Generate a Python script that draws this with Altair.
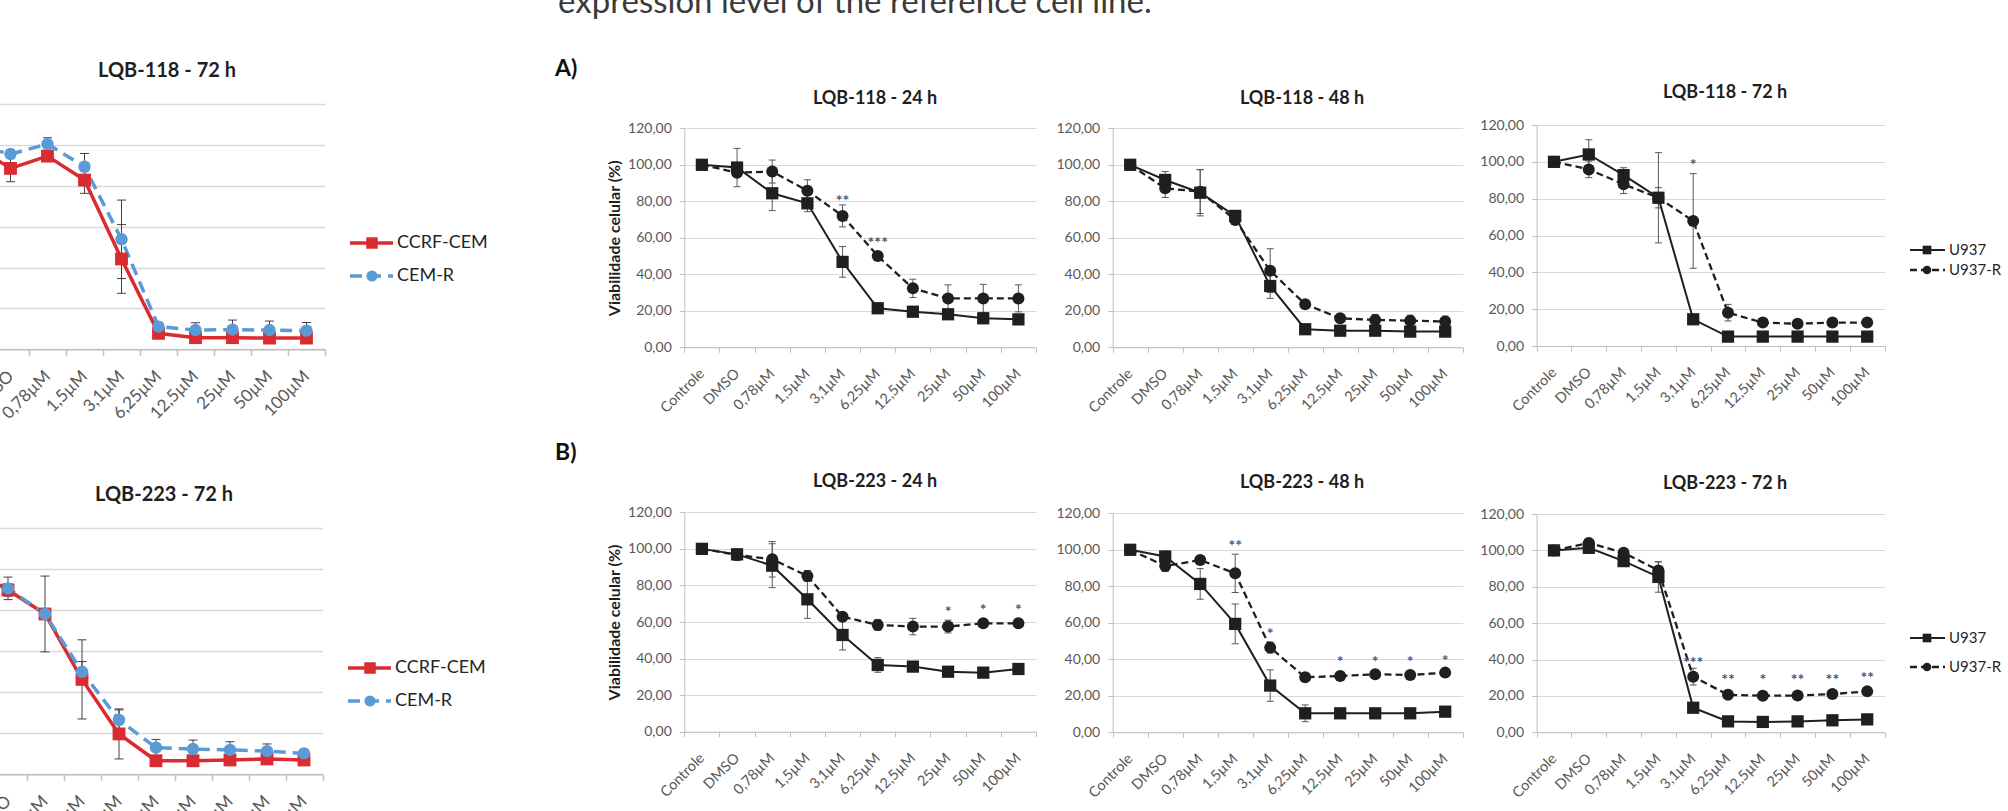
import altair as alt
import pandas as pd

W, H = 2008, 811
FONT = "Lato"
INK = "#1f1f1f"
TXT = "#595959"
GRID = "#d9d9d9"
AXIS = "#bfbfbf"
ERR = "#595959"
RED = "#d92b30"
BLUE = "#5b9bd5"
STAR = "#3f5b80"

CATS = ["Controle", "DMSO", "0,78µM", "1,5µM", "3,1µM", "6,25µM",
        "12,5µM", "25µM", "50µM", "100µM"]
Y_TICKS = [0, 20, 40, 60, 80, 100, 120]

# ---- CCRF-CEM / CEM-R, 72 h ----
l118_72_ccrf = [100, 88.5, 94.5, 82.8, 44.2, 7.8, 5.7, 5.7, 5.5, 5.5]
l118_72_ccrf_err = [0, 6.5, 1.0, 6.5, 16.8, 2.0, 1.0, 1.0, 1.0, 1.0]
l118_72_cemr = [100, 95.5, 100.4, 89.3, 53.8, 11.1, 9.4, 9.6, 9.4, 9.1]
l118_72_cemr_err = [0, 2.0, 3.1, 6.5, 19.2, 1.5, 3.6, 4.7, 4.4, 4.0]

l223_72_ccrf = [100, 89.9, 78.2, 46.3, 19.7, 6.6, 6.6, 7.0, 7.5, 7.0]
l223_72_ccrf_err = [0, 3.0, 18.5, 19.3, 12.2, 1.0, 1.0, 1.0, 1.0, 1.0]
l223_72_cemr = [100, 90.7, 78.2, 50.0, 26.5, 13.0, 12.3, 11.9, 11.3, 10.2]
l223_72_cemr_err = [0, 5.5, 2.0, 5.0, 4.9, 4.0, 4.4, 4.0, 3.5, 1.0]

# ---- U937 / U937-R, LQB-118 ----
a24_u937 = [100, 98.5, 84.4, 78.9, 46.8, 21.4, 19.5, 18.1, 15.9, 15.3]
a24_u937_err = [0, 10.5, 9.5, 4.6, 8.4, 1.5, 1.5, 1.5, 1.5, 2.0]
a24_u937r = [100, 95.7, 96.3, 85.8, 72.0, 50.0, 32.3, 26.8, 26.8, 26.8]
a24_u937r_err = [0, 2.0, 6.3, 6.0, 6.0, 1.5, 5.0, 7.4, 7.7, 7.4]
a24_star_dose = ["3,1µM", "6,25µM"]
a24_star_text = ["**", "***"]
a24_star_y = [82.6, 59.2]

a48_u937 = [100, 91.7, 84.7, 72.0, 33.6, 9.9, 9.1, 9.1, 8.6, 8.6]
a48_u937_err = [0, 4.6, 12.7, 2.0, 6.8, 1.0, 1.0, 1.0, 1.0, 1.0]
a48_u937r = [100, 87.1, 85.3, 69.8, 42.0, 23.6, 15.9, 15.0, 14.6, 14.1]
a48_u937r_err = [0, 5.0, 12.0, 2.0, 12.0, 2.0, 2.0, 3.0, 3.0, 3.0]

a72_u937 = [100, 104.0, 92.8, 80.5, 14.5, 5.1, 5.1, 5.1, 5.1, 5.1]
a72_u937_err = [0, 8.0, 4.0, 24.5, 1.5, 0.5, 0.5, 0.5, 0.5, 0.5]
a72_u937r = [100, 95.9, 87.8, 80.5, 67.9, 18.1, 12.7, 12.1, 12.7, 12.7]
a72_u937r_err = [0, 4.5, 5.0, 5.5, 25.7, 4.5, 1.0, 1.0, 1.0, 1.0]
a72_star_dose = ["3,1µM"]
a72_star_text = ["*"]
a72_star_y = [100.5]

# ---- U937 / U937-R, LQB-223 ----
b24_u937 = [100, 97.0, 90.8, 72.4, 52.9, 36.5, 35.6, 32.8, 32.3, 34.3]
b24_u937_err = [0, 3.0, 12.0, 10.4, 8.2, 4.0, 1.0, 1.0, 1.0, 1.0]
b24_u937r = [100, 96.7, 94.3, 85.2, 62.9, 58.4, 57.5, 57.5, 59.3, 59.3]
b24_u937r_err = [0, 3.0, 9.7, 3.0, 2.0, 3.0, 4.5, 3.5, 2.0, 2.0]
b24_star_dose = ["25µM", "50µM", "100µM"]
b24_star_text = ["*", "*", "*"]
b24_star_y = [67.8, 68.9, 68.9]

b48_u937 = [100, 96.3, 81.3, 59.4, 25.6, 10.4, 10.4, 10.4, 10.4, 11.3]
b48_u937_err = [0, 3.0, 8.4, 10.9, 8.6, 4.6, 1.0, 1.0, 1.0, 1.0]
b48_u937r = [100, 91.1, 94.4, 87.1, 46.4, 30.1, 30.9, 31.8, 31.4, 32.7]
b48_u937r_err = [0, 3.0, 2.0, 10.5, 3.0, 2.0, 2.0, 2.0, 2.0, 2.0]
b48_star_dose = ["1,5µM", "3,1µM", "12,5µM", "25µM", "50µM", "100µM"]
b48_star_text = ["**", "*", "*", "*", "*", "*"]
b48_star_y = [104.5, 56.0, 40.5, 40.5, 40.5, 41.5]

b72_u937 = [100, 101.4, 94.1, 85.4, 13.5, 6.0, 5.7, 6.0, 6.6, 7.1]
b72_u937_err = [0, 1.0, 2.0, 8.4, 1.0, 0.5, 0.5, 0.5, 0.5, 0.5]
b72_u937r = [100, 104.1, 98.7, 89.0, 30.6, 20.6, 20.1, 20.2, 21.0, 22.5]
b72_u937r_err = [0, 1.5, 1.5, 4.6, 4.6, 1.0, 1.0, 1.0, 1.0, 1.0]
b72_star_dose = ["3,1µM", "6,25µM", "12,5µM", "25µM", "50µM", "100µM"]
b72_star_text = ["***", "**", "*", "**", "**", "**"]
b72_star_y = [40.2, 30.7, 30.7, 30.7, 30.7, 32.2]

# series styles
SOLID_K = dict(color=INK, width=2.0, shape="square", size=150)
DASH_K = dict(color=INK, width=2.3, dash=[7, 4], shape="circle", size=144)
SOLID_R = dict(color=RED, width=3.5, shape="square", size=165)
DASH_B = dict(color=BLUE, width=3.5, dash=[12, 7], shape="circle", size=155)

Y_LABELS = "replace(format(datum.value, '.2f'), '.', ',')"


def frame(values, errs, name):
    return pd.DataFrame({"dose": CATS, "idx": list(range(len(CATS))),
                         "v": values, "e": errs, "serie": name})


def legend_layers(entries, x1, x2, xm, xt, ys, size, marker_scale):
    out = []
    for (name, st), yy in zip(entries, ys):
        d = alt.Chart(pd.DataFrame({"serie": [name]}))
        kw = dict(color=st["color"], strokeWidth=st["width"])
        if "dash" in st:
            kw["strokeDash"] = st["dash"]
        out.append(d.mark_rule(**kw).encode(
            x=alt.value(x1), x2=alt.value(x2), y=alt.value(yy)))
        out.append(d.mark_point(shape=st["shape"], filled=True, opacity=1,
                                color=st["color"],
                                size=st["size"] * marker_scale).encode(
            x=alt.value(xm), y=alt.value(yy)))
        out.append(d.mark_text(font=FONT, fontSize=size, color="#262626",
                               align="left", baseline="middle").encode(
            x=alt.value(xt), y=alt.value(yy), text="serie:N"))
    return out


def panel(title, series, box, title_pos, big=False, stars=None, ytitle=None,
          legend=None):
    left, right, top, bottom = box
    xsc = alt.Scale(type="band", domain=CATS, range=[left, right],
                    paddingInner=0, paddingOuter=0)
    ysc = alt.Scale(type="linear", domain=[0, 120], range=[bottom, top],
                    nice=False, zero=False)
    xax = alt.Axis(orient="bottom", offset=bottom - H, title=None, grid=False,
                   tickBand="extent", labelAngle=-45, labelAlign="right",
                   labelBaseline="middle", labelPadding=18 if big else 19,
                   labelFont=FONT, labelFontSize=17 if big else 14.5,
                   labelColor=TXT, labelOverlap=False,
                   domainColor=AXIS, domainWidth=1.5 if big else 1,
                   tickColor=AXIS, tickWidth=1.5 if big else 1,
                   tickSize=6 if big else 5)
    ykw = dict(orient="left", offset=-left, values=Y_TICKS, labelExpr=Y_LABELS,
               labelFont=FONT, labelFontSize=16 if big else 14,
               labelColor=TXT, labelPadding=8, tickSize=5, tickColor=AXIS,
               domainColor=AXIS, grid=True, gridColor=GRID,
               gridWidth=1.5 if big else 1)
    if ytitle:
        ykw.update(title=ytitle, titleFont=FONT, titleFontSize=16,
                   titleFontWeight="bold", titleColor=INK, titlePadding=5)
    else:
        ykw["title"] = None
    yax = alt.Axis(**ykw)
    X = alt.X("dose:N", scale=xsc, axis=xax, bandPosition=0.5)

    df = pd.concat([frame(v, e, n) for n, v, e, _ in series], ignore_index=True)
    base = alt.Chart(df)
    cap_w = 9 if big else 7
    ec = "#404040" if big else ERR

    err = base.transform_filter("datum.e > 0").transform_calculate(
        lo="datum.v - datum.e", hi="datum.v + datum.e")
    layers = [
        err.mark_rule(color=ec, strokeWidth=1).encode(
            x=X, y=alt.Y("lo:Q", scale=ysc, axis=yax), y2="hi:Q"),
        err.transform_fold(["lo", "hi"], as_=["end", "cap"]).mark_point(
            shape="M-1,0L1,0", size=cap_w * cap_w, filled=False, color=ec,
            strokeWidth=1, opacity=1).encode(
            x=X, y=alt.Y("cap:Q", scale=ysc, axis=yax)),
    ]
    for name, _, _, st in series:
        sub = base.transform_filter(alt.datum.serie == name)
        kw = dict(color=st["color"], strokeWidth=st["width"])
        if "dash" in st:
            kw["strokeDash"] = st["dash"]
        layers.append(sub.mark_line(**kw).encode(
            x=X, y=alt.Y("v:Q", scale=ysc, axis=yax), order="idx:Q"))
    for name, _, _, st in series:
        sub = base.transform_filter(alt.datum.serie == name)
        layers.append(sub.mark_point(shape=st["shape"], filled=True, opacity=1,
                                     color=st["color"], size=st["size"]).encode(
            x=X, y=alt.Y("v:Q", scale=ysc, axis=yax)))
    if stars:
        sd = pd.DataFrame({"dose": stars[0], "txt": stars[1], "y": stars[2]})
        layers.append(alt.Chart(sd).mark_text(
            font=FONT, fontSize=16, fontWeight="bold", color=STAR,
            baseline="middle", dy=4).encode(
            x=X, y=alt.Y("y:Q", scale=ysc, axis=yax), text="txt:N"))
    layers.append(alt.Chart(pd.DataFrame({"t": [title]})).mark_text(
        font=FONT, fontWeight="bold", fontSize=20 if big else 18, color=INK,
        align="center", baseline="middle").encode(
        x=alt.value(title_pos[0]), y=alt.value(title_pos[1]), text="t:N"))
    if legend:
        layers += legend
    return alt.layer(*layers)


cem_names = ("CCRF-CEM", "CEM-R")
u_names = ("U937", "U937-R")

panels = [
    panel("LQB-118 - 72 h",
          [(cem_names[0], l118_72_ccrf, l118_72_ccrf_err, SOLID_R),
           (cem_names[1], l118_72_cemr, l118_72_cemr_err, DASH_B)],
          (-45, 325, 104, 349.3), (167, 71), big=True,
          legend=legend_layers([(cem_names[0], SOLID_R), (cem_names[1], DASH_B)],
                               350, 393, 372, 397, [243, 276], 18, 0.8)),
    panel("LQB-223 - 72 h",
          [(cem_names[0], l223_72_ccrf, l223_72_ccrf_err, SOLID_R),
           (cem_names[1], l223_72_cemr, l223_72_cemr_err, DASH_B)],
          (-47.5, 322.5, 528.3, 774.3), (164, 495), big=True,
          legend=legend_layers([(cem_names[0], SOLID_R), (cem_names[1], DASH_B)],
                               348, 391, 370, 395, [668, 701], 18, 0.8)),
    panel("LQB-118 - 24 h",
          [(u_names[0], a24_u937, a24_u937_err, SOLID_K),
           (u_names[1], a24_u937r, a24_u937r_err, DASH_K)],
          (684.3, 1036, 128.3, 347.3), (875, 99),
          stars=(a24_star_dose, a24_star_text, a24_star_y),
          ytitle="Viabilidade celular (%)"),
    panel("LQB-118 - 48 h",
          [(u_names[0], a48_u937, a48_u937_err, SOLID_K),
           (u_names[1], a48_u937r, a48_u937r_err, DASH_K)],
          (1112.7, 1462.7, 128.3, 347.3), (1302, 99)),
    panel("LQB-118 - 72 h",
          [(u_names[0], a72_u937, a72_u937_err, SOLID_K),
           (u_names[1], a72_u937r, a72_u937r_err, DASH_K)],
          (1536.6, 1884.6, 125, 346), (1725, 93),
          stars=(a72_star_dose, a72_star_text, a72_star_y),
          legend=legend_layers([(u_names[0], SOLID_K), (u_names[1], DASH_K)],
                               1910, 1945, 1927, 1949, [250, 270], 15, 0.5)),
    panel("LQB-223 - 24 h",
          [(u_names[0], b24_u937, b24_u937_err, SOLID_K),
           (u_names[1], b24_u937r, b24_u937r_err, DASH_K)],
          (684.3, 1036, 512.3, 731.7), (875, 482),
          stars=(b24_star_dose, b24_star_text, b24_star_y),
          ytitle="Viabilidade celular (%)"),
    panel("LQB-223 - 48 h",
          [(u_names[0], b48_u937, b48_u937_err, SOLID_K),
           (u_names[1], b48_u937r, b48_u937r_err, DASH_K)],
          (1112.7, 1462.7, 513.3, 732.3), (1302, 483),
          stars=(b48_star_dose, b48_star_text, b48_star_y)),
    panel("LQB-223 - 72 h",
          [(u_names[0], b72_u937, b72_u937_err, SOLID_K),
           (u_names[1], b72_u937r, b72_u937r_err, DASH_K)],
          (1536.6, 1884.6, 514, 732.3), (1725, 484),
          stars=(b72_star_dose, b72_star_text, b72_star_y),
          legend=legend_layers([(u_names[0], SOLID_K), (u_names[1], DASH_K)],
                               1910, 1945, 1927, 1949, [638, 667], 15, 0.5)),
]

# slide text around the figure
heading = alt.Chart(pd.DataFrame({"t": ["expression level of the reference cell line."]})).mark_text(
    font=FONT, fontSize=33, color="#3a3a3a", align="left", baseline="alphabetic").encode(
    x=alt.value(558), y=alt.value(13), text="t:N")
tags = alt.Chart(pd.DataFrame({"t": ["A)", "B)"], "py": [69, 453]})).mark_text(
    font=FONT, fontSize=23, fontWeight="bold", color="#111111", align="left",
    baseline="middle").encode(x=alt.value(555), y=alt.Y("py:Q", scale=None), text="t:N")

chart = alt.layer(*panels, heading, tags).resolve_scale(
    x="independent", y="independent").resolve_axis(
    x="independent", y="independent").properties(
    width=W, height=H, padding=0, background="white",
    autosize=alt.AutoSizeParams(type="none")).configure_view(stroke=None)

chart.save("out.html", embed_options={"renderer": "svg", "actions": False})
